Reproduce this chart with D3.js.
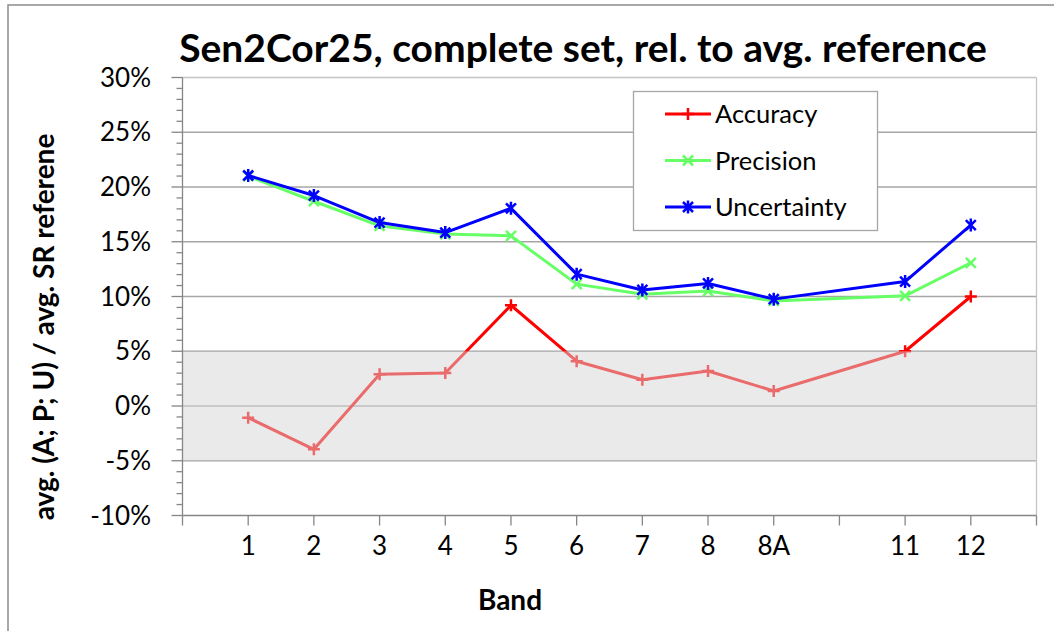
<html>
<head>
<meta charset="UTF-8"/>
<script src="https://d3js.org/d3.v7.min.js"></script>
<style>
body { margin:0; background:#fff; }
text { font-family: "Lato", "Open Sans", sans-serif; fill:#000; }
</style>
</head>
<body>
<script>
// band positions (9 and 10 are left out of the set)
const bandPos   = [1, 2, 3, 4, 5, 6, 7, 8, 9, 11, 12];
const tickLabels = ["", "1", "2", "3", "4", "5", "6", "7", "8", "8A", "", "11", "12", ""];
const accuracy    = [-1.07, -3.96, 2.90, 3.02, 9.20, 4.09, 2.40, 3.20, 1.37, 5.00, 10.00];
const precision   = [21.0, 18.7, 16.45, 15.7, 15.54, 11.13, 10.2, 10.5, 9.6, 10.06, 13.08];
const uncertainty = [21.05, 19.22, 16.75, 15.84, 18.05, 12.04, 10.6, 11.19, 9.76, 11.36, 16.52];
const yTicks = [-10, -5, 0, 5, 10, 15, 20, 25, 30];

const width = 1054, height = 631;

const svg = d3.select("body").append("svg")
	.attr("width", width)
	.attr("height", height);

// outer chart frame
svg.append("rect")
	.attr("x", 8).attr("y", 5)
	.attr("width", width + 10).attr("height", height + 10)
	.attr("fill", "none").attr("stroke", "#8c8c8c").attr("stroke-width", 1.5);

const x = d3.scaleLinear().domain([0, 13]).range([182.5, 1036.5]);
const y = d3.scaleLinear().domain([-10, 30]).range([515.5, 77.5]);

// gridlines
svg.append("g").selectAll("line")
	.data(yTicks.filter(d => d > -10))
	.join("line")
	.attr("x1", x(0)).attr("x2", x(13))
	.attr("y1", d => y(d)).attr("y2", d => y(d))
	.attr("stroke", d => d == 30 ? "#c4c4c4" : "#a6a6a6")
	.attr("stroke-width", 1.3);

// right border of plot area
svg.append("line")
	.attr("x1", x(13)).attr("x2", x(13))
	.attr("y1", y(30)).attr("y2", y(-10))
	.attr("stroke", "#c4c4c4").attr("stroke-width", 1.3);

// series
const series = [
	{name: "Accuracy",    values: accuracy,    color: "#ff0000", marker: "M-6,0H6M0,-6V6"},
	{name: "Precision",   values: precision,   color: "#66ff66", marker: "M-5,-5L5,5M-5,5L5,-5"},
	{name: "Uncertainty", values: uncertainty, color: "#0000ff", marker: "M-5,-5L5,5M-5,5L5,-5M0,-6.5V6.5"}
];

const line = d3.line()
	.x((d, i) => x(bandPos[i]))
	.y(d => y(d));

const sg = svg.append("g").selectAll("g")
	.data(series)
	.join("g");

sg.append("path")
	.attr("fill", "none")
	.attr("stroke", d => d.color)
	.attr("stroke-width", 3)
	.attr("stroke-linejoin", "round")
	.attr("d", d => line(d.values));

sg.each(function(s) {
	d3.select(this).selectAll(".m")
		.data(s.values)
		.join("path")
		.attr("class", "m")
		.attr("transform", (d, i) => "translate(" + x(bandPos[i]) + "," + y(d) + ")")
		.attr("d", s.marker)
		.attr("fill", "none")
		.attr("stroke", s.color)
		.attr("stroke-width", 2.5);
});

// translucent band -5% .. 5% over the lines
svg.append("rect")
	.attr("x", x(0)).attr("width", x(13) - x(0))
	.attr("y", y(5)).attr("height", y(-5) - y(5))
	.attr("fill", "rgb(214,214,214)")
	.attr("opacity", 0.5);

// y axis
svg.append("line")
	.attr("x1", x(0)).attr("x2", x(0))
	.attr("y1", y(30)).attr("y2", y(-10))
	.attr("stroke", "#868686").attr("stroke-width", 1.3);
svg.append("g").selectAll("line")
	.data(d3.range(-10, 31))
	.join("line")
	.attr("x1", d => d % 5 == 0 ? x(0) - 11 : x(0) - 6).attr("x2", x(0))
	.attr("y1", d => y(d)).attr("y2", d => y(d))
	.attr("stroke", "#868686").attr("stroke-width", 1.3);
svg.append("g").selectAll("text")
	.data(yTicks)
	.join("text")
	.attr("x", 151).attr("y", d => y(d) + 9)
	.attr("text-anchor", "end")
	.attr("font-size", 26)
	.text(d => d + "%");

// x axis
svg.append("line")
	.attr("x1", x(0)).attr("x2", x(13))
	.attr("y1", y(-10)).attr("y2", y(-10))
	.attr("stroke", "#868686").attr("stroke-width", 1.3);
svg.append("g").selectAll("line")
	.data(d3.range(0, 14))
	.join("line")
	.attr("x1", d => x(d)).attr("x2", d => x(d))
	.attr("y1", y(-10)).attr("y2", y(-10) + 10)
	.attr("stroke", "#868686").attr("stroke-width", 1.3);
svg.append("g").selectAll("text")
	.data(tickLabels)
	.join("text")
	.attr("x", (d, i) => x(i)).attr("y", 555)
	.attr("text-anchor", "middle")
	.attr("font-size", 26)
	.text(d => d);

// titles
svg.append("text")
	.attr("x", 583).attr("y", 62)
	.attr("text-anchor", "middle")
	.attr("font-size", 39).attr("font-weight", "bold")
	.text("Sen2Cor25, complete set, rel. to avg. reference");
svg.append("text")
	.attr("x", 510).attr("y", 610)
	.attr("text-anchor", "middle")
	.attr("font-size", 28).attr("font-weight", "bold")
	.text("Band");
svg.append("text")
	.attr("transform", "translate(54,327) rotate(-90)")
	.attr("text-anchor", "middle")
	.attr("font-size", 28).attr("font-weight", "bold")
	.text("avg. (A; P; U) / avg. SR referene");

// legend
const lg = svg.append("g");
lg.append("rect")
	.attr("x", 633.5).attr("y", 91.5).attr("width", 244).attr("height", 139)
	.attr("fill", "#fff").attr("stroke", "#a6a6a6").attr("stroke-width", 1.3);
const li = lg.selectAll("g")
	.data(series)
	.join("g")
	.attr("transform", (d, i) => "translate(0," + (114 + i * 46.5) + ")");
li.append("line")
	.attr("x1", 665).attr("x2", 711)
	.attr("stroke", d => d.color).attr("stroke-width", 3);
li.append("path")
	.attr("transform", "translate(688,0)")
	.attr("d", d => d.marker)
	.attr("fill", "none")
	.attr("stroke", d => d.color).attr("stroke-width", 2.5);
li.append("text")
	.attr("x", 715).attr("y", 9)
	.attr("font-size", 25.5)
	.text(d => d.name);
</script>
</body>
</html>
